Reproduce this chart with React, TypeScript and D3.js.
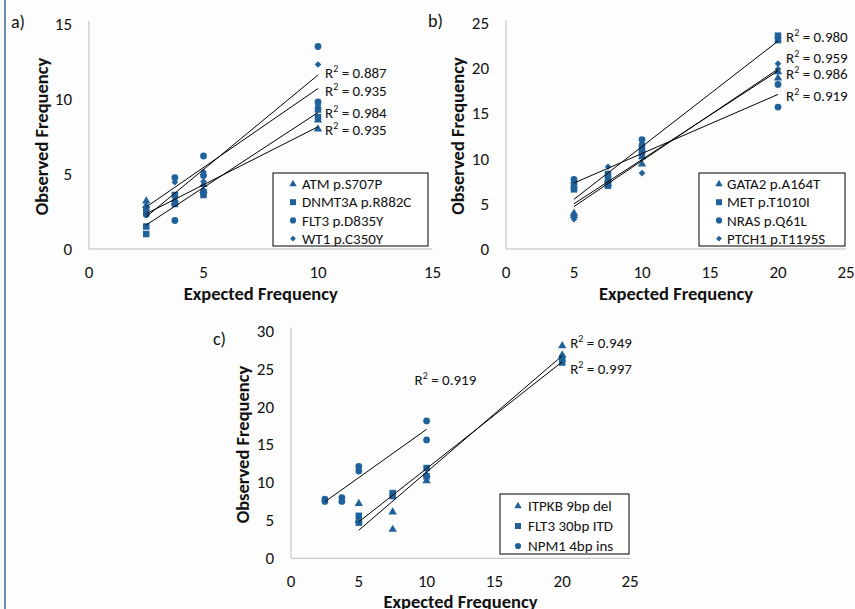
import React from 'react';
import * as d3 from 'd3';

const FONT = "Carlito, Calibri, Lato, 'Open Sans', sans-serif";
const MARK = '#1f619a';

// a) expected vs observed, two replicates per level
const atmPts = [[2.5, 3.2], [2.5, 2.9], [3.75, 3.3], [3.75, 3.1], [5, 4.3], [5, 3.9], [10, 8.0], [10, 8.6]];
const dnmt3aPts = [[2.5, 1.5], [2.5, 1.0], [3.75, 3.6], [3.75, 3.0], [5, 3.8], [5, 3.6], [10, 9.3], [10, 8.8]];
const flt3Pts = [[2.5, 2.6], [2.5, 2.3], [3.75, 4.75], [3.75, 1.9], [5, 6.2], [5, 4.9], [10, 13.5], [10, 9.8]];
const wt1Pts = [[2.5, 2.75], [2.5, 2.5], [3.75, 4.45], [3.75, 3.5], [5, 5.15], [5, 4.5], [10, 12.3], [10, 9.6]];

// b)
const gata2Pts = [[5, 3.95], [5, 3.7], [7.5, 7.6], [7.5, 7.2], [10, 10.2], [10, 9.4], [20, 19.6], [20, 18.9]];
const metPts = [[5, 6.6], [5, 6.9], [7.5, 8.3], [7.5, 7.0], [10, 11.0], [10, 10.6], [20, 23.6], [20, 23.1]];
const nrasPts = [[5, 7.7], [5, 7.3], [7.5, 7.9], [7.5, 7.5], [10, 12.1], [10, 11.5], [20, 18.2], [20, 15.7]];
const ptch1Pts = [[5, 3.3], [5, 3.9], [7.5, 9.1], [7.5, 8.0], [10, 10.6], [10, 8.4], [20, 20.5], [20, 19.9]];

// c)
const itpkbPts = [[5, 7.2], [5, 5.0], [7.5, 6.1], [7.5, 3.8], [10, 10.2], [10, 11.0], [20, 28.0], [20, 26.8]];
const flt3ItdPts = [[5, 5.6], [5, 4.7], [7.5, 8.6], [7.5, 8.2], [10, 11.9], [10, 10.8], [20, 26.3], [20, 25.8]];
const npm1Pts = [[2.5, 7.8], [2.5, 7.5], [3.75, 8.0], [3.75, 7.5], [5, 12.1], [5, 11.5], [10, 18.1], [10, 15.6]];

// trendline values at first / last expected level
const trendA = [[2.35, 8.15], [1.6, 9.1], [2.15, 11.6], [2.8, 10.7]];
const trendB = [[5.0, 19.7], [5.5, 23.0], [7.3, 17.1], [4.7, 19.9]];
const trendC = [[3.7, 26.7], [4.8, 25.9], [7.45, 17.0]];

const r2A = ['0.935', '0.984', '0.887', '0.935'];
const r2B = ['0.986', '0.980', '0.919', '0.959'];
const r2C = ['0.949', '0.997', '0.919'];

const namesA = ['ATM p.S707P', 'DNMT3A p.R882C', 'FLT3 p.D835Y', 'WT1 p.C350Y'];
const namesB = ['GATA2 p.A164T', 'MET p.T1010I', 'NRAS p.Q61L', 'PTCH1 p.T1195S'];
const namesC = ['ITPKB 9bp del', 'FLT3 30bp ITD', 'NPM1 4bp ins'];

const shapes = ['triangle', 'square', 'circle', 'diamond'];

const panels = [
  {
    tag: 'a)', pts: [atmPts, dnmt3aPts, flt3Pts, wt1Pts], trend: trendA, r2: r2A, names: namesA,
    xMax: 15, yMax: 15, left: 89, right: 432.5, top: 24, bottom: 249,
    tagX: 11, tagY: 28, yTitleX: 42, xTitleY: 300,
    legend: { x: 273, y: 173, w: 155, h: 73, row: 18.2, first: 11, mx: 20, tx: 29 },
    nudge: [[7, 3], [7, 0], [7, -2], [7, 2]],
  },
  {
    tag: 'b)', pts: [gata2Pts, metPts, nrasPts, ptch1Pts], trend: trendB, r2: r2B, names: namesB,
    xMax: 25, yMax: 25, left: 506, right: 846, top: 23, bottom: 249,
    tagX: 428, tagY: 27, yTitleX: 458, xTitleY: 300,
    legend: { x: 699, y: 173, w: 146, h: 73, row: 18.2, first: 11, mx: 20, tx: 28 },
    nudge: [[8, 3.5], [8, -4], [8, 2], [8, -11]],
  },
  {
    tag: 'c)', pts: [itpkbPts, flt3ItdPts, npm1Pts], trend: trendC, r2: r2C, names: namesC,
    xMax: 25, yMax: 30, left: 291, right: 630, top: 330.7, bottom: 558.3,
    tagX: 213, tagY: 345, yTitleX: 243, xTitleY: 608,
    legend: { x: 500, y: 494, w: 129, h: 60, row: 20, first: 12, mx: 18, tx: 28 },
    nudge: [[8, -13], [8, 7], [-12, -49]],
  },
];

const symbolFor = (s: string) => {
  if (s === 'triangle') return d3.symbol(d3.symbolTriangle, 30);
  if (s === 'square') return d3.symbol(d3.symbolSquare, 42);
  if (s === 'circle') return d3.symbol(d3.symbolCircle, 36);
  return d3.symbol((d3 as any).symbolDiamond2 || d3.symbolDiamond, 28);
};

const legendSymbol = (s: string) => {
  if (s === 'triangle') return d3.symbol(d3.symbolTriangle, 24);
  if (s === 'square') return d3.symbol(d3.symbolSquare, 36);
  if (s === 'circle') return d3.symbol(d3.symbolCircle, 30);
  return d3.symbol((d3 as any).symbolDiamond2 || d3.symbolDiamond, 22);
};

function Panel({ p }: { p: any }) {
  const x = d3.scaleLinear().domain([0, p.xMax]).range([p.left, p.right]);
  const y = d3.scaleLinear().domain([0, p.yMax]).range([p.bottom, p.top]);
  const xTicks = d3.range(0, p.xMax + 1, 5);
  const yTicks = d3.range(0, p.yMax + 1, 5);
  const lg = p.legend;

  return (
    <g fontFamily={FONT}>
      <text x={p.tagX} y={p.tagY} fontSize={18} fill="#111">{p.tag}</text>

      <line x1={p.left} x2={p.right} y1={p.bottom} y2={p.bottom} stroke="#bdbdbd" />
      <line x1={p.left} x2={p.left} y1={p.bottom} y2={p.top - 3} stroke="#bdbdbd" />

      {yTicks.map(t => (
        <text key={'y' + t} x={p.left - 17} y={y(t)} dy="0.35em" textAnchor="end" fontSize={17} fill="#111">{t}</text>
      ))}
      {xTicks.map(t => (
        <text key={'x' + t} x={x(t)} y={p.bottom + 23} dy="0.35em" textAnchor="middle" fontSize={17} fill="#111">{t}</text>
      ))}

      <text transform={`translate(${p.yTitleX},${(p.top + p.bottom) / 2}) rotate(-90)`} textAnchor="middle"
        dy="0.35em" fontSize={18.5} fontWeight="bold" fill="#111">Observed Frequency</text>
      <text x={(p.left + p.right) / 2} y={p.xTitleY} textAnchor="middle" fontSize={18.5} fontWeight="bold" fill="#111">Expected Frequency</text>

      {p.pts.map((pts: number[][], i: number) => (
        <g key={'s' + i}>
          {pts.map((d, j) => (
            <path key={j} d={symbolFor(shapes[i])() as string} transform={`translate(${x(d[0])},${y(d[1])})`} fill={MARK} />
          ))}
        </g>
      ))}

      {p.pts.map((pts: number[][], i: number) => {
        const [x0, x1] = d3.extent(pts, d => d[0]) as [number, number];
        const line = d3.line<number[]>().x(d => x(d[0])).y(d => y(d[1]));
        return <path key={'t' + i} d={line([[x0, p.trend[i][0]], [x1, p.trend[i][1]]]) as string} stroke="#000" strokeWidth={1} fill="none" />;
      })}

      {p.pts.map((pts: number[][], i: number) => {
        const x1 = d3.max(pts, d => d[0]) as number;
        const lx = x(x1) + p.nudge[i][0];
        const ly = y(p.trend[i][1]) + p.nudge[i][1] + 5;
        return (
          <text key={'r' + i} x={lx} y={ly} fontSize={15} fill="#111">
            R<tspan dy={-6} fontSize={10}>2</tspan><tspan dy={6}> = {p.r2[i]}</tspan>
          </text>
        );
      })}

      <rect x={lg.x} y={lg.y} width={lg.w} height={lg.h} fill="#fff" stroke="#000" strokeWidth={1} />
      {p.names.map((n: string, i: number) => (
        <g key={'l' + i} transform={`translate(${lg.x},${lg.y + lg.first + i * lg.row})`}>
          <path d={legendSymbol(shapes[i])() as string} transform={`translate(${lg.mx},0)`} fill={MARK} />
          <text x={lg.tx} dy="0.35em" fontSize={15} fill="#111">{n}</text>
        </g>
      ))}
    </g>
  );
}

export default function App() {
  return (
    <svg width={855} height={609} style={{ position: 'absolute', left: 0, top: 0, background: '#fdfdfd' }}>
      <rect width={855} height={609} fill="#fdfdfd" />
      <line x1={5} x2={5} y1={0} y2={609} stroke="#3a6795" strokeWidth={1.5} />
      {panels.map((p, i) => <Panel key={i} p={p} />)}
    </svg>
  );
}
